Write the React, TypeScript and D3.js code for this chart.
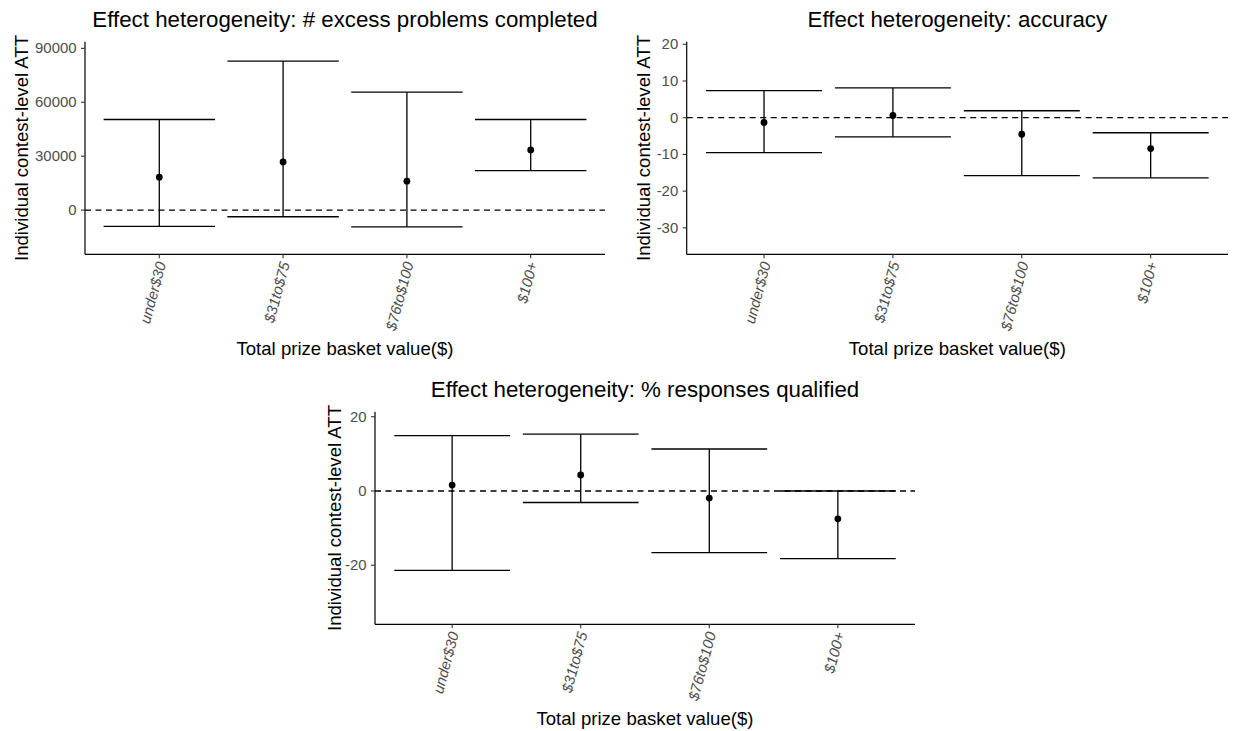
import React from "react";
import * as d3 from "d3";

const categories = ["under$30", "$31to$75", "$76to$100", "$100+"];

const problemsEst = [18300, 26800, 16100, 33500];
const problemsLo = [-9100, -3700, -9300, 22000];
const problemsHi = [50400, 82900, 65600, 50400];
const problemsTicks = [0, 30000, 60000, 90000];
const problemsDomain = [-24600, 93700];

const accuracyEst = [-1.3, 0.6, -4.5, -8.4];
const accuracyLo = [-9.5, -5.2, -15.8, -16.4];
const accuracyHi = [7.4, 8.1, 1.9, -4.1];
const accuracyTicks = [-30, -20, -10, 0, 10, 20];
const accuracyDomain = [-37.2, 20.7];

const qualifiedEst = [1.6, 4.3, -1.9, -7.5];
const qualifiedLo = [-21.4, -3.1, -16.6, -18.2];
const qualifiedHi = [14.9, 15.3, 11.3, 0.0];
const qualifiedTicks = [-20, 0, 20];
const qualifiedDomain = [-35.9, 21.35];

const FONT = "'Liberation Sans', Arial, Helvetica, sans-serif";

type PanelProps = {
  title: string;
  est: number[];
  lo: number[];
  hi: number[];
  ticks: number[];
  domain: number[];
  left: number;
  right: number;
  top: number;
  bottom: number;
  yTitleX: number;
};

function Panel({ title, est, lo, hi, ticks, domain, left, right, top, bottom, yTitleX }: PanelProps) {
  const x = d3.scalePoint<string>().domain(categories).range([left, right]).padding(0.6);
  const y = d3.scaleLinear().domain(domain).range([bottom, top]);
  const step = x.step();
  const half = (step * 0.9) / 2;
  const cx = (left + right) / 2;
  const cy = (top + bottom) / 2;
  return (
    <g>
      <text x={cx} y={top - 15} textAnchor="middle" fontSize={22.3} fill="#000" fontFamily={FONT}>
        {title}
      </text>
      <text
        transform={`translate(${yTitleX},${cy}) rotate(-90)`}
        textAnchor="middle"
        fontSize={18.6}
        fill="#000"
        fontFamily={FONT}
        dominantBaseline="central"
      >
        Individual contest-level ATT
      </text>
      <text x={cx} y={bottom + 101} textAnchor="middle" fontSize={18.6} fill="#000" fontFamily={FONT}>
        Total prize basket value($)
      </text>
      {/* dashed zero line */}
      <line x1={left} x2={right} y1={y(0)} y2={y(0)} stroke="#000" strokeWidth={1.3} strokeDasharray="6,4.5" />
      {categories.map((c, i) => {
        const px = x(c) as number;
        return (
          <g key={c}>
            <line x1={px} x2={px} y1={y(hi[i])} y2={y(lo[i])} stroke="#000" strokeWidth={1.3} />
            <line x1={px - half} x2={px + half} y1={y(hi[i])} y2={y(hi[i])} stroke="#000" strokeWidth={1.3} />
            <line x1={px - half} x2={px + half} y1={y(lo[i])} y2={y(lo[i])} stroke="#000" strokeWidth={1.3} />
            <circle cx={px} cy={y(est[i])} r={3.4} fill="#000" />
          </g>
        );
      })}
      {/* axes */}
      <line x1={left} x2={left} y1={top} y2={bottom} stroke="#000" strokeWidth={1.2} />
      <line x1={left} x2={right} y1={bottom} y2={bottom} stroke="#000" strokeWidth={1.2} />
      {ticks.map((t) => (
        <g key={t}>
          <line x1={left - 4} x2={left} y1={y(t)} y2={y(t)} stroke="#333" strokeWidth={1.1} />
          <text
            x={left - 8.5}
            y={y(t)}
            textAnchor="end"
            dominantBaseline="central"
            fontSize={14.9}
            fill="#4D4D4D"
            fontFamily={FONT}
          >
            {t}
          </text>
        </g>
      ))}
      {categories.map((c) => {
        const px = x(c) as number;
        return (
          <g key={c}>
            <line x1={px} x2={px} y1={bottom} y2={bottom + 4} stroke="#333" strokeWidth={1.1} />
            <text
              transform={`translate(${px + 2},${bottom + 8}) rotate(-75)`}
              textAnchor="end"
              dominantBaseline="central"
              fontSize={14.9}
              fontStyle="italic"
              fill="#4D4D4D"
              fontFamily={FONT}
            >
              {c}
            </text>
          </g>
        );
      })}
    </g>
  );
}

export default function App() {
  return (
    <svg
      width={1233}
      height={731}
      style={{ position: "absolute", left: 0, top: 0, display: "block", background: "#fff" }}
    >
      <rect width={1233} height={731} fill="#fff" />
      <Panel
        title="Effect heterogeneity: # excess problems completed"
        est={problemsEst}
        lo={problemsLo}
        hi={problemsHi}
        ticks={problemsTicks}
        domain={problemsDomain}
        left={85}
        right={605}
        top={41.7}
        bottom={254.3}
        yTitleX={21}
      />
      <Panel
        title="Effect heterogeneity: accuracy"
        est={accuracyEst}
        lo={accuracyLo}
        hi={accuracyHi}
        ticks={accuracyTicks}
        domain={accuracyDomain}
        left={686.7}
        right={1228}
        top={41.7}
        bottom={254.3}
        yTitleX={643}
      />
      <Panel
        title="Effect heterogeneity: % responses qualified"
        est={qualifiedEst}
        lo={qualifiedLo}
        hi={qualifiedHi}
        ticks={qualifiedTicks}
        domain={qualifiedDomain}
        left={375}
        right={915}
        top={411.7}
        bottom={624.3}
        yTitleX={334}
      />
    </svg>
  );
}
